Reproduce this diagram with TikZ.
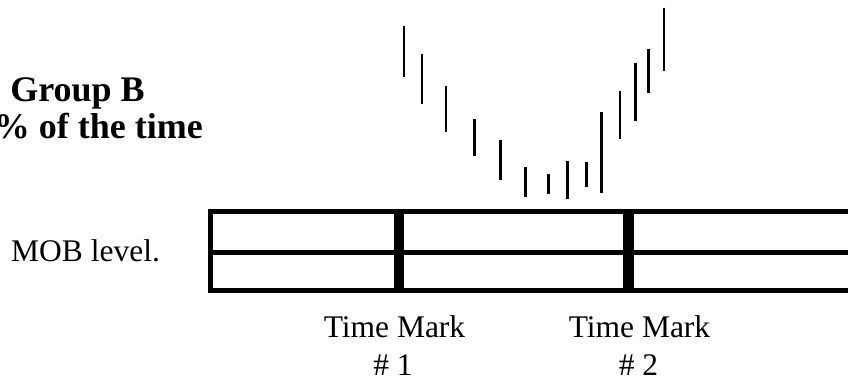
\documentclass[tikz,border=0pt]{standalone}
\usepackage{fontspec}
\setmainfont{Liberation Serif}
\begin{document}
\begin{tikzpicture}[x=1bp,y=-1bp,
  gridline/.style={line width=5bp},
  markline/.style={line width=10.5bp},
  pricebar/.style={line width=2.6bp},
  lbl/.style={inner sep=0pt,anchor=base,font=\fontsize{31.5bp}{42bp}\selectfont},
  boldlbl/.style={inner sep=0pt,anchor=base,font=\fontsize{36bp}{43bp}\selectfont\bfseries}]
\useasboundingbox (0,0) rectangle (848,379);
% price bars
\foreach \x/\a/\b in {404/26/76.7, 422/54/104, 446/86/132.3, 474.7/119/156,
  500.3/140/180.3, 525.7/167/196.7, 548.3/174/194, 567.7/161.3/199.3,
  586.3/161.7/187.3, 601.3/112.3/193, 620/90.7/139, 635.7/63.3/120.7,
  648.7/49/93.3, 664/7.7/70.7}
  \draw[pricebar] (\x,\a) -- (\x,\b);
% level band
\draw[gridline] (870,211.5) -- (210.5,211.5) -- (210.5,290.5) -- (870,290.5);
\draw[gridline] (208,252) -- (870,252);
\coordinate (m1top) at (399,209);
\coordinate (m1bot) at (399,293);
\coordinate (m2top) at (628.5,209);
\coordinate (m2bot) at (628.5,293);
\draw[markline] (m1top) -- (m1bot);
\draw[markline] (m2top) -- (m2bot);
% texts
\node[boldlbl] (grp) at (77.5,101.7) {Group B};
\node[boldlbl,anchor=base east] (pct) at (203,138) {\% of the time};
\node[lbl,anchor=base west] (mob) at (11,261) {MOB level.};
\node[lbl] (tm1) at (394.5,337) {Time Mark};
\node[lbl] (tm1n) at (393,375) {\# 1};
\node[lbl] (tm2) at (639.5,337) {Time Mark};
\node[lbl] (tm2n) at (638.5,375) {\# 2};
\end{tikzpicture}
\end{document}
